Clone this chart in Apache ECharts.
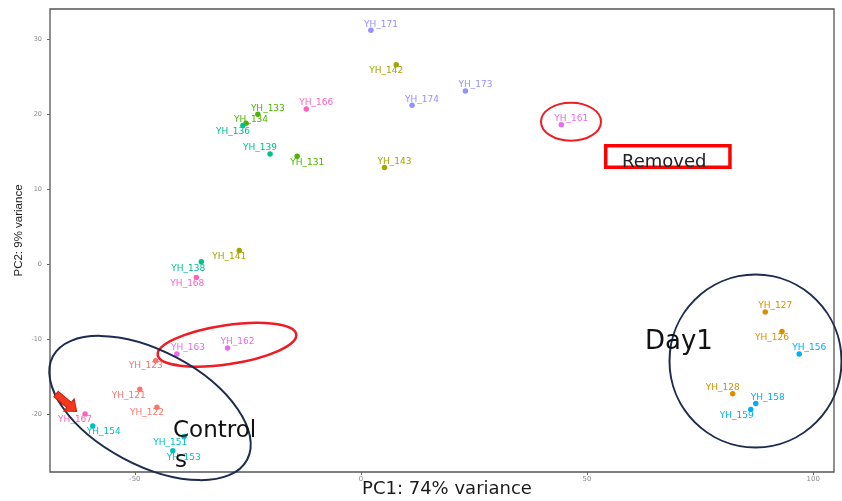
<!DOCTYPE html>
<html>
<head>
<meta charset="utf-8">
<script src="https://cdn.jsdelivr.net/npm/echarts@6/dist/echarts.min.js"></script>
<style>
html,body{margin:0;padding:0;background:#fff;}
#chart{width:842px;height:501px;}
</style>
</head>
<body>
<div id="chart"></div>
<script>
// ---- data ----
const samples = ['YH_121','YH_122','YH_123','YH_126','YH_127','YH_128','YH_131','YH_133','YH_134','YH_136','YH_138','YH_139','YH_141','YH_142','YH_143','YH_151','YH_153','YH_154','YH_156','YH_158','YH_159','YH_161','YH_162','YH_163','YH_166','YH_167','YH_168','YH_171','YH_173','YH_174'];
const pc1 = [-48.9,-45.1,-45.4, 93.1,89.4,82.2, -14.1,-22.8,-25.4, -26.1,-35.3,-20.1, -26.9,7.8,5.2, -39.1,-41.6,-59.3, 96.9,87.3,86.2, 44.3,-29.5,-40.7, -12.1,-61.0,-36.4, 2.2,23.1,11.3];
const pc2 = [-16.7,-19.1,-12.9, -9.0,-6.4,-17.3, 14.4,20.0,18.8, 18.5,0.3,14.7, 1.8,26.6,12.9, -23.0,-24.9,-21.6, -12.0,-18.6,-19.4, 18.6,-11.2,-12.0, 20.7,-20.0,-1.8, 31.2,23.1,21.2];
const groupIndex = [0,0,0, 1,1,1, 2,2,2, 3,3,3, 4,4,4, 5,5,5, 6,6,6, 7,7,7, 8,8,8, 9,9,9];
const groupNames = ['YH_121-123','YH_126-128','YH_131-134','YH_136-139','YH_141-143','YH_151-154','YH_156-159','YH_161-163','YH_166-168','YH_171-174'];
const xTicks = [-50, 0, 50, 100];
const yTicks = [-20, -10, 0, 10, 20, 30];

// ---- styles ----
const groupColors = ['#F8766D','#D89000','#4CB400','#00C08B','#A3A500','#00BFC4','#00B0F6','#E76BF3','#FF62BC','#9590FF'];
const labelOffset = {
  YH_171:[10,-6], YH_142:[-10,6], YH_166:[10,-6], YH_133:[10,-6], YH_134:[5,-4], YH_136:[-10,6],
  YH_139:[-10,-6], YH_131:[10,6], YH_143:[10,-6], YH_174:[10,-6], YH_173:[10,-6], YH_161:[10,-6],
  YH_141:[-10,6], YH_138:[-13,7], YH_168:[-9,6], YH_162:[10,-6], YH_163:[11,-6], YH_123:[-10,5],
  YH_121:[-11,6], YH_122:[-10,5], YH_167:[-10,6], YH_154:[11,6], YH_151:[-14,6], YH_153:[11,7],
  YH_127:[10,-6], YH_126:[-10,6], YH_156:[10,-6], YH_128:[-10,-6], YH_158:[12,-6], YH_159:[-14,6]
};

const seriesSamples = groupNames.map((g, gi) => samples.filter((s, i) => groupIndex[i] === gi));

const series = groupNames.map((g, gi) => ({
  type: 'scatter',
  name: g,
  symbolSize: 5.5,
  itemStyle: { color: groupColors[gi], opacity: 1 },
  label: {
    show: true,
    position: 'inside',
    formatter: p => p.name,
    color: groupColors[gi],
    fontFamily: 'DejaVu Sans',
    fontSize: 9
  },
  labelLayout: params => {
    const nm = seriesSamples[params.seriesIndex][params.dataIndex];
    const o = labelOffset[nm] || [0, 0];
    return { dx: o[0], dy: o[1], hideOverlap: false };
  },
  data: samples.map((s, i) => ({ s, i })).filter(o => groupIndex[o.i] === gi).map(o => ({
    name: o.s,
    value: [pc1[o.i], pc2[o.i]]
  }))
}));

const navy = '#1E2A4F';
const red = '#EE1C25';
const annoFont = '"DejaVu Sans"';

const chart = echarts.init(document.getElementById('chart'), null, { renderer: 'canvas' });
chart.setOption({
  animation: false,
  backgroundColor: '#ffffff',
  grid: { left: 50, right: 8, top: 9, bottom: 29, show: true, borderColor: '#555', borderWidth: 1.3, backgroundColor: 'transparent', containLabel: false, outerBoundsMode: 'none' },
  xAxis: {
    type: 'value', min: -68.76, max: 104.6,
    name: 'PC1: 74% variance', nameLocation: 'middle', nameGap: 8, nameMoveOverlap: false,
    nameTextStyle: { fontFamily: 'DejaVu Sans', fontSize: 18, color: '#1a1a1a', padding: [0, 0, 0, 10] },
    axisLine: { show: false, onZero: false },
    axisTick: { show: true, customValues: xTicks, length: 3, lineStyle: { color: '#666' } },
    axisLabel: { customValues: xTicks, fontSize: 7, color: '#8a8a8a', margin: 4, fontFamily: 'DejaVu Sans' },
    splitLine: { show: false }
  },
  yAxis: {
    type: 'value', min: -27.74, max: 34.04,
    name: 'PC2: 9% variance', nameLocation: 'middle', nameGap: 25, nameMoveOverlap: false,
    nameTextStyle: { fontFamily: 'Liberation Sans', fontSize: 11.5, color: '#1a1a1a', padding: [0, 0, 0, 20] },
    axisLine: { show: false, onZero: false },
    axisTick: { show: true, customValues: yTicks, length: 3, lineStyle: { color: '#666' } },
    axisLabel: { customValues: yTicks, fontSize: 6.5, color: '#8a8a8a', margin: 8, fontFamily: 'DejaVu Sans' },
    splitLine: { show: false }
  },
  series: series,
  graphic: [
    { type: 'ellipse', x: 571, y: 121.7, z: 100, shape: { cx: 0, cy: 0, rx: 30, ry: 19 }, style: { fill: 'none', stroke: red, lineWidth: 2 } },
    { type: 'ellipse', x: 227, y: 344.7, rotation: 0.148, z: 100, shape: { cx: 0, cy: 0, rx: 70, ry: 19.5 }, style: { fill: 'none', stroke: red, lineWidth: 2.5 } },
    { type: 'ellipse', x: 150, y: 408, rotation: -0.489, z: 100, shape: { cx: 0, cy: 0, rx: 110, ry: 57 }, style: { fill: 'none', stroke: navy, lineWidth: 2 } },
    { type: 'ellipse', x: 755.5, y: 361, z: 100, shape: { cx: 0, cy: 0, rx: 86, ry: 86.5 }, style: { fill: 'none', stroke: navy, lineWidth: 2 } },
    { type: 'rect', z: 100, shape: { x: 605.75, y: 145.75, width: 124.2, height: 21.5 }, style: { fill: 'none', stroke: '#FF0000', lineWidth: 3.5 } },
    { type: 'text', x: 622, y: 162, z: 101, style: { text: 'Removed', font: '18px ' + annoFont, fill: '#222', align: 'left', verticalAlign: 'middle' } },
    { type: 'text', x: 645, y: 342, z: 101, style: { text: 'Day1', font: '26px ' + annoFont, fill: '#111', align: 'left', verticalAlign: 'middle' } },
    { type: 'text', x: 173, y: 431, z: 101, style: { text: 'Control', font: '23px ' + annoFont, fill: '#111', align: 'left', verticalAlign: 'middle' } },
    { type: 'text', x: 175, y: 461, z: 101, style: { text: 's', font: '23px ' + annoFont, fill: '#111', align: 'left', verticalAlign: 'middle' } },
    { type: 'polygon', x: 56, y: 394, rotation: -0.7, z: 101,
      shape: { points: [[0,-3.5],[17,-3.5],[17,-8],[27,0],[17,8],[17,3.5],[0,3.5]] },
      style: { fill: '#F5371E', stroke: '#C4200E', lineWidth: 1 } }
  ]
});
</script>
</body>
</html>
